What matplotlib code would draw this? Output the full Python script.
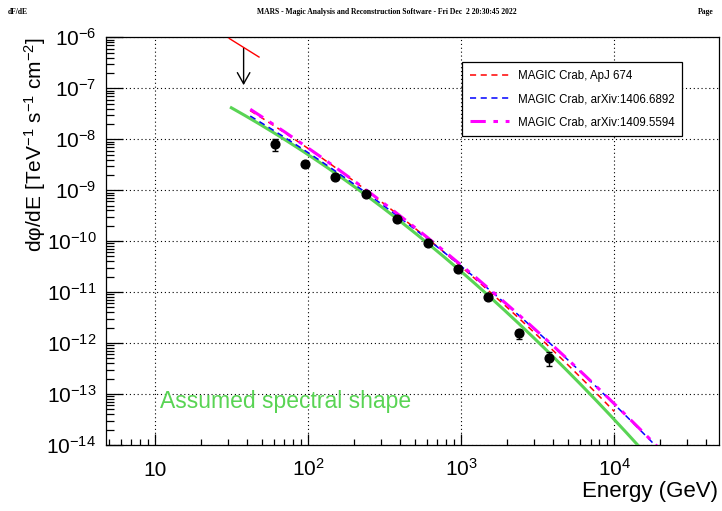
import numpy as np
import matplotlib.pyplot as plt
from matplotlib import ticker

plt.rcParams['font.family'] = ['Liberation Sans', 'DejaVu Sans']
plt.rcParams['mathtext.fontset'] = 'custom'
plt.rcParams['mathtext.rm'] = 'Liberation Sans'
plt.rcParams['mathtext.it'] = 'Liberation Sans:italic'
plt.rcParams['mathtext.bf'] = 'Liberation Sans:bold'

# Measured spectral points (GeV, TeV^-1 s^-1 cm^-2)
energy_gev = [60.6, 96, 150, 238, 382, 605, 960, 1507, 2393, 3776]
flux = [8.05e-9, 3.30e-9, 1.81e-9, 8.3e-10, 2.75e-10, 9.06e-11, 2.83e-11,
        7.88e-12, 1.55e-12, 5.0e-13]
flux_lo = [5.86e-9, 3.1e-9, 1.72e-9, 7.9e-10, 2.62e-10, 8.6e-11, 2.68e-11,
           7.4e-12, 1.19e-12, 3.54e-13]
flux_hi = [1.01e-8, 3.5e-9, 1.90e-9, 8.7e-10, 2.88e-10, 9.5e-11, 2.98e-11,
           8.4e-12, 1.79e-12, 6.7e-13]

# Upper limit in the lowest bin
ul_energy = 38.0
ul_flux = 6.25e-7
ul_arrow_end = 1.15e-7
ul_seg_energy = [30.6, 47.9]
ul_seg_flux = [9.5e-7, 4.1e-7]

# Log-parabola spectra: (norm, E0 [TeV], index, curvature, Emin, Emax [GeV])
crab_apj674 = (6.0e-10, 0.3, -2.31, -0.26, 42, 10000)
crab_1406 = (3.23e-11, 1.0, -2.47, -0.24, 42, 30000)
crab_1409 = (3.39e-11, 1.0, -2.51, -0.21, 42, 30000)
assumed_shape = (2.54e-11, 1.0, -2.60, -0.306, 31.6, 30000)


def log_parabola(params):
    norm, e0, a, b, emin, emax = params
    e = np.logspace(np.log10(emin), np.log10(emax), 300)
    x = np.log10(e / 1000.0 / e0)
    return e, norm * 10 ** (a * x + b * x ** 2)


fig = plt.figure(figsize=(7.22, 5.11), dpi=100)
ax = fig.add_axes([106 / 722, 1 - 445 / 511, 612.6 / 722, 407.7 / 511])
ax.set_xscale('log')
ax.set_yscale('log')
ax.set_xlim(4.8, 4.8e4)
ax.set_ylim(1e-14, 1e-6)

green = '#59d454'
e, f = log_parabola(assumed_shape)
ax.plot(e, f, color=green, lw=2.2, zorder=3)
e, f = log_parabola(crab_apj674)
ax.plot(e, f, color='red', lw=1.1, ls=(0, (4, 3)), zorder=4,
        label='MAGIC Crab, ApJ 674')
e, f = log_parabola(crab_1406)
ax.plot(e, f, color='blue', lw=1.1, ls=(0, (4, 3)), zorder=4,
        label='MAGIC Crab, arXiv:1406.6892')
e, f = log_parabola(crab_1409)
ax.plot(e, f, color='magenta', lw=2.2, ls=(0, (5, 2.5, 1.5, 2.5)), zorder=4,
        label='MAGIC Crab, arXiv:1409.5594')

yerr = [np.array(flux) - np.array(flux_lo), np.array(flux_hi) - np.array(flux)]
ax.errorbar(energy_gev, flux, yerr=yerr, fmt='o', color='black', ms=6.3,
            elinewidth=1, capsize=2, zorder=5)

ax.plot(ul_seg_energy, ul_seg_flux, color='red', lw=1, zorder=4)
ax.annotate('', xy=(ul_energy, ul_arrow_end), xytext=(ul_energy, ul_flux),
            arrowprops=dict(arrowstyle='->, head_length=0.8, head_width=0.45',
                            color='black', lw=1, mutation_scale=10,
                            shrinkA=0, shrinkB=0))

ax.text(10.8, 5.3e-14, 'Assumed spectral shape', color=green,
        fontsize=16.5, ha='left', va='baseline')

# Grid and frame
ax.grid(True, which='major', color='black', ls=(0, (1, 2.5)), lw=0.8)
for s in ax.spines.values():
    s.set_linewidth(0.9)

ax.xaxis.set_major_locator(ticker.LogLocator(base=10, numticks=10))
ax.xaxis.set_minor_locator(ticker.LogLocator(base=10, subs=np.arange(2, 10), numticks=10))
ax.yaxis.set_major_locator(ticker.LogLocator(base=10, numticks=20))
ax.yaxis.set_minor_locator(ticker.LogLocator(base=10, subs=np.arange(2, 10), numticks=20))


def xfmt(v, pos):
    p = int(round(np.log10(v)))
    return '10' if p == 1 else r'$10^{%d}$' % p


def yfmt(v, pos):
    p = int(round(np.log10(v)))
    return r'$10^{%d}$' % p


ax.xaxis.set_major_formatter(ticker.FuncFormatter(xfmt))
ax.yaxis.set_major_formatter(ticker.FuncFormatter(yfmt))
ax.xaxis.set_minor_formatter(ticker.NullFormatter())
ax.tick_params(axis='both', which='both', direction='in', top=False, right=False,
               labelsize=15, width=0.9)
ax.tick_params(axis='x', which='major', length=8, pad=22)
ax.tick_params(axis='x', which='minor', length=4)
ax.tick_params(axis='y', which='major', length=12, pad=7)
ax.tick_params(axis='y', which='minor', length=6)
# share one baseline for "10" and "10^n" labels
for lbl in ax.get_xticklabels():
    lbl.set_verticalalignment('baseline')

leg = ax.legend(loc='upper left', bbox_to_anchor=(0.5806, 0.9387), fontsize=8.3,
                frameon=True, fancybox=False, edgecolor='black', framealpha=1,
                borderaxespad=0, handlelength=3.4, handletextpad=0.75,
                labelspacing=0.95, borderpad=0.7)
leg.get_frame().set_linewidth(0.9)

fig.text(35 / 722, 1 - 37 / 511, 'dφ/dE [TeV$^{-1}$ s$^{-1}$ cm$^{-2}$]',
         rotation=90, ha='center', va='top', fontsize=15)
fig.text(718 / 722, 1 - 492 / 511, 'Energy (GeV)', ha='right', va='center',
         fontsize=16)

# Page header
hdr = dict(family=['Liberation Serif', 'DejaVu Serif'], fontweight='bold',
           fontsize=5.5, va='center')
fig.text(8 / 722, 1 - 12 / 511, 'dF/dE', ha='left', **hdr)
fig.text(387 / 722, 1 - 12 / 511,
         'MARS - Magic Analysis and Reconstruction Software - Fri Dec  2 20:30:45 2022',
         ha='center', **hdr)
fig.text(698 / 722, 1 - 12 / 511, 'Page', ha='left', **hdr)

fig.savefig('out.png', dpi=100)
